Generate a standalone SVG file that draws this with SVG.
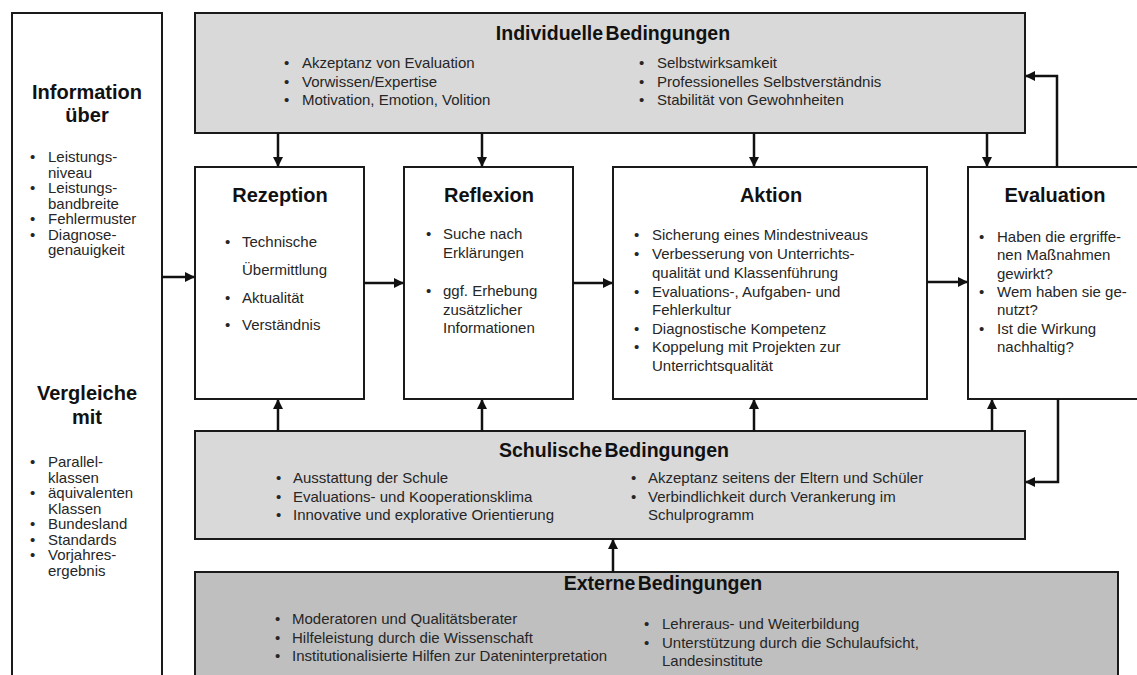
<svg xmlns="http://www.w3.org/2000/svg" width="1137" height="675" viewBox="0 0 1137 675">
<defs>
<style>
.box{fill:#ffffff;stroke:#1a1a1a;stroke-width:2}
.cond{fill:#d9d9d9;stroke:#1a1a1a;stroke-width:2}
.ext{fill:#bfbfbf;stroke:#1a1a1a;stroke-width:2}
.t{font-family:"Liberation Sans",Arial,sans-serif;font-size:15px;fill:#262626}
.h{font-family:"Liberation Sans",Arial,sans-serif;font-size:20px;font-weight:bold;fill:#111;text-anchor:middle}
.hs{font-family:"Liberation Sans",Arial,sans-serif;font-size:19.5px;font-weight:bold;fill:#111;text-anchor:middle;word-spacing:-3px}
.c{fill:none;stroke:#111;stroke-width:2.5}
</style>
<marker id="ah" viewBox="0 0 10 10" refX="9" refY="5" markerWidth="4" markerHeight="4" orient="auto" markerUnits="strokeWidth">
<path d="M0,0 L10,5 L0,10 z" fill="#111"/>
</marker>
</defs>

<g id="info">
<rect class="box" x="12" y="13" width="150" height="680"/>
<text class="h" x="87" y="99">Information</text>
<text class="h" x="87" y="122">über</text>
<text class="t"><tspan x="30" y="162">•</tspan><tspan x="48">Leistungs-</tspan><tspan x="48" y="177.5">niveau</tspan><tspan x="30" y="193">•</tspan><tspan x="48">Leistungs-</tspan><tspan x="48" y="208.5">bandbreite</tspan><tspan x="30" y="224">•</tspan><tspan x="48">Fehlermuster</tspan><tspan x="30" y="239.5">•</tspan><tspan x="48">Diagnose-</tspan><tspan x="48" y="255">genauigkeit</tspan></text>
<text class="h" x="87" y="400">Vergleiche</text>
<text class="h" x="87" y="424">mit</text>
<text class="t"><tspan x="30" y="467">•</tspan><tspan x="48">Parallel-</tspan><tspan x="48" y="482.5">klassen</tspan><tspan x="30" y="498">•</tspan><tspan x="48">äquivalenten</tspan><tspan x="48" y="513.5">Klassen</tspan><tspan x="30" y="529">•</tspan><tspan x="48">Bundesland</tspan><tspan x="30" y="544.5">•</tspan><tspan x="48">Standards</tspan><tspan x="30" y="560">•</tspan><tspan x="48">Vorjahres-</tspan><tspan x="48" y="575.5">ergebnis</tspan></text>
</g>

<g id="individuelle">
<rect class="cond" x="195" y="13" width="830" height="120"/>
<text class="hs" x="613" y="40">Individuelle Bedingungen</text>
<text class="t"><tspan x="284" y="68">•</tspan><tspan x="302">Akzeptanz von Evaluation</tspan><tspan x="284" y="86.5">•</tspan><tspan x="302" y="86.5">Vorwissen/Expertise</tspan><tspan x="284" y="105">•</tspan><tspan x="302" y="105">Motivation,  Emotion, Volition</tspan></text>
<text class="t"><tspan x="639" y="68">•</tspan><tspan x="657">Selbstwirksamkeit</tspan><tspan x="639" y="86.5">•</tspan><tspan x="657" y="86.5">Professionelles Selbstverständnis</tspan><tspan x="639" y="105">•</tspan><tspan x="657" y="105">Stabilität von Gewohnheiten</tspan></text>
</g>

<g id="rezeption">
<rect class="box" x="195" y="167" width="169" height="232"/>
<text class="h" x="280" y="202">Rezeption</text>
<text class="t"><tspan x="225" y="247">•</tspan><tspan x="242">Technische</tspan><tspan x="242" y="274.5">Übermittlung</tspan><tspan x="225" y="303">•</tspan><tspan x="242">Aktualität</tspan><tspan x="225" y="330">•</tspan><tspan x="242">Verständnis</tspan></text>
</g>

<g id="reflexion">
<rect class="box" x="404" y="167" width="169" height="232"/>
<text class="h" x="489" y="202">Reflexion</text>
<text class="t"><tspan x="426" y="239">•</tspan><tspan x="443">Suche nach</tspan><tspan x="443" y="258">Erklärungen</tspan><tspan x="426" y="296">•</tspan><tspan x="443">ggf. Erhebung</tspan><tspan x="443" y="314.5">zusätzlicher</tspan><tspan x="443" y="333">Informationen</tspan></text>
</g>

<g id="aktion">
<rect class="box" x="613" y="167" width="314" height="232"/>
<text class="h" x="771" y="202">Aktion</text>
<text class="t"><tspan x="634" y="240">•</tspan><tspan x="652">Sicherung eines Mindestniveaus</tspan><tspan x="634" y="259">•</tspan><tspan x="652">Verbesserung von Unterrichts-</tspan><tspan x="652" y="277.5">qualität und Klassenführung</tspan><tspan x="634" y="296.5">•</tspan><tspan x="652">Evaluations-, Aufgaben- und</tspan><tspan x="652" y="315">Fehlerkultur</tspan><tspan x="634" y="333.5">•</tspan><tspan x="652">Diagnostische Kompetenz</tspan><tspan x="634" y="352">•</tspan><tspan x="652">Koppelung mit Projekten zur</tspan><tspan x="652" y="370.5">Unterrichtsqualität</tspan></text>
</g>

<g id="evaluation">
<rect class="box" x="968" y="167" width="190" height="232"/>
<text class="h" x="1055" y="202">Evaluation</text>
<text class="t"><tspan x="979" y="242">•</tspan><tspan x="997">Haben die ergriffe-</tspan><tspan x="997" y="260">nen Maßnahmen</tspan><tspan x="997" y="278.5">gewirkt?</tspan><tspan x="979" y="297">•</tspan><tspan x="997">Wem haben sie ge-</tspan><tspan x="997" y="315">nutzt?</tspan><tspan x="979" y="333.5">•</tspan><tspan x="997">Ist die Wirkung</tspan><tspan x="997" y="351.5">nachhaltig?</tspan></text>
</g>

<g id="schulische">
<rect class="cond" x="195" y="431" width="830" height="108"/>
<text class="hs" x="614" y="457">Schulische Bedingungen</text>
<text class="t"><tspan x="276" y="483">•</tspan><tspan x="293">Ausstattung der Schule</tspan><tspan x="276" y="501.5">•</tspan><tspan x="293" y="501.5">Evaluations- und Kooperationsklima</tspan><tspan x="276" y="520">•</tspan><tspan x="293" y="520">Innovative und explorative Orientierung</tspan></text>
<text class="t"><tspan x="631" y="483">•</tspan><tspan x="648">Akzeptanz seitens der Eltern und Schüler</tspan><tspan x="631" y="501.5">•</tspan><tspan x="648" y="501.5">Verbindlichkeit durch Verankerung im</tspan><tspan x="648" y="520">Schulprogramm</tspan></text>
</g>

<g id="externe">
<rect class="ext" x="195" y="572" width="923" height="120"/>
<text class="hs" x="663" y="590">Externe Bedingungen</text>
<text class="t"><tspan x="275" y="624">•</tspan><tspan x="292">Moderatoren und Qualitätsberater</tspan><tspan x="275" y="642.5">•</tspan><tspan x="292" y="642.5">Hilfeleistung durch die Wissenschaft</tspan><tspan x="275" y="661">•</tspan><tspan x="292" y="661">Institutionalisierte Hilfen zur Dateninterpretation</tspan></text>
<text class="t"><tspan x="644" y="629">•</tspan><tspan x="662">Lehreraus- und Weiterbildung</tspan><tspan x="644" y="647.5">•</tspan><tspan x="662" y="647.5">Unterstützung durch die Schulaufsicht,</tspan><tspan x="662" y="666">Landesinstitute</tspan></text>
</g>

<g id="connectors">
<line class="c" x1="162" y1="277" x2="194" y2="277" marker-end="url(#ah)"/>
<line class="c" x1="364" y1="283" x2="403" y2="283" marker-end="url(#ah)"/>
<line class="c" x1="573" y1="283" x2="612" y2="283" marker-end="url(#ah)"/>
<line class="c" x1="927" y1="282" x2="967" y2="282" marker-end="url(#ah)"/>
<line class="c" x1="278" y1="133" x2="278" y2="166" marker-end="url(#ah)"/>
<line class="c" x1="482" y1="133" x2="482" y2="166" marker-end="url(#ah)"/>
<line class="c" x1="754" y1="133" x2="754" y2="166" marker-end="url(#ah)"/>
<line class="c" x1="987" y1="133" x2="987" y2="166" marker-end="url(#ah)"/>
<line class="c" x1="278" y1="431" x2="278" y2="400" marker-end="url(#ah)"/>
<line class="c" x1="482" y1="431" x2="482" y2="400" marker-end="url(#ah)"/>
<line class="c" x1="754" y1="431" x2="754" y2="400" marker-end="url(#ah)"/>
<line class="c" x1="992" y1="431" x2="992" y2="400" marker-end="url(#ah)"/>
<polyline class="c" points="1057,167 1057,76 1026,76" marker-end="url(#ah)"/>
<polyline class="c" points="1058,399 1058,482 1026,482" marker-end="url(#ah)"/>
<line class="c" x1="613" y1="572" x2="613" y2="540" marker-end="url(#ah)"/>
</g>
</svg>
